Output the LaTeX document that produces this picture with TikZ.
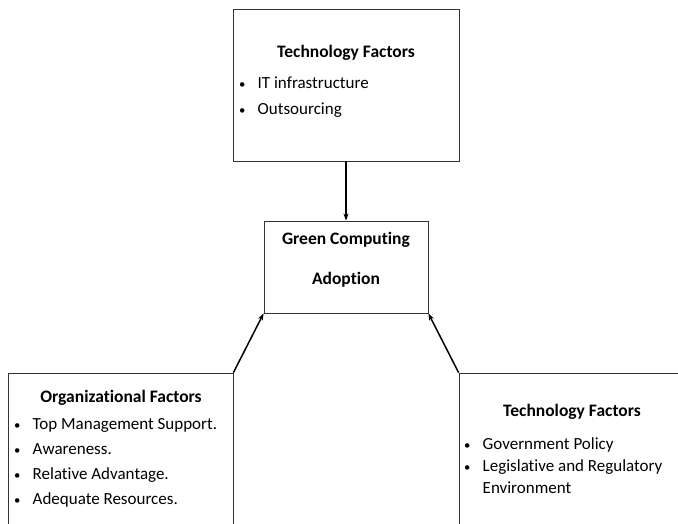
\documentclass[tikz,border=0pt]{standalone}
\usepackage{fontspec}
\setmainfont{Carlito}[Ligatures={NoCommon}]
\usepackage{tikz}
\usetikzlibrary{arrows.meta}

\tikzset{
  factorbox/.style={draw=black!80, line width=0.8pt, inner sep=0pt},
  heading/.style={font=\fontsize{17.5}{20}\selectfont\bfseries, inner sep=0pt},
  item/.style={font=\fontsize{17}{20}\selectfont, anchor=base west, inner sep=0pt},
  arr/.style={line width=1.5pt, -{Stealth[length=7pt, width=5pt]}}
}
\newcommand{\bul}[1]{\makebox[15.5pt][l]{\makebox[0pt]{\scalebox{0.75}{\textbullet}}}#1}

\begin{document}
\begin{tikzpicture}[x=1pt, y=-1pt]
\useasboundingbox (0,0) rectangle (678,523);

% boxes
\node[factorbox, minimum width=226pt, minimum height=152pt] (tech) at (346,85) {};
\node[factorbox, minimum width=164pt, minimum height=92pt] (adopt) at (346,267) {};
\node[factorbox, minimum width=225pt, minimum height=187pt] (org) at (120.5,466.5) {};
\node[factorbox, minimum width=241pt, minimum height=187pt] (env) at (579.5,466.5) {};

% top box text
\node[heading] (techtitle) at (346,53) {Technology Factors};
\node[item] (tech1) at (242,88) {\bul{IT infrastructure}};
\node[item] (tech2) at (242,114) {\bul{Outsourcing}};

% centre box text
\node[heading] (adopt1) at (346,240) {Green Computing};
\node[heading] (adopt2) at (346,280) {Adoption};

% left box text
\node[heading] (orgtitle) at (121,398) {Organizational Factors};
\node[item] (org1) at (17,429) {\bul{Top Management Support.}};
\node[item] (org2) at (17,454) {\bul{Awareness.}};
\node[item] (org3) at (17,479) {\bul{Relative Advantage.}};
\node[item] (org4) at (17,504) {\bul{Adequate Resources.}};

% right box text
\node[heading] (envtitle) at (572,412) {Technology Factors};
\node[item] (env1) at (467,449) {\bul{Government Policy}};
\node[item] (env2) at (467,471) {\bul{Legislative and Regulatory}};
\node[item] (env3) at (482.5,493) {Environment};

% arrows
\draw[arr] (tech.south) -- (adopt.north);
\draw[arr] (org.north east) -- (adopt.south west);
\draw[arr] (env.north west) -- (adopt.south east);

\end{tikzpicture}
\end{document}
